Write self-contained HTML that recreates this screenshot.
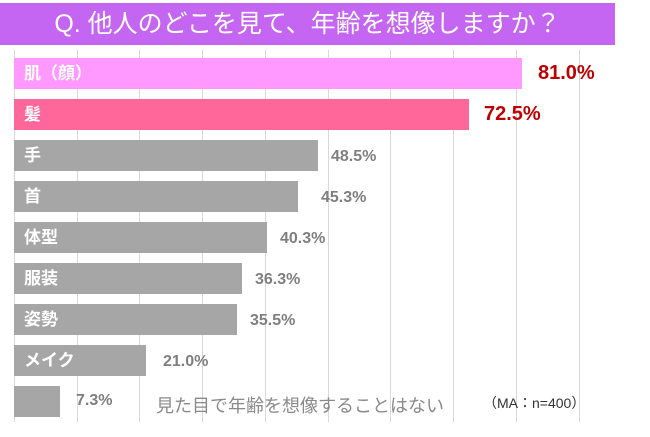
<!DOCTYPE html><html><head><meta charset="utf-8"><style>
body{margin:0;width:650px;height:437px;background:#fff;position:relative;overflow:hidden;font-family:"Liberation Sans","Noto Sans CJK JP",sans-serif}
.t{position:absolute;left:0;top:3px;width:615px;height:42px;background:#c466f2;color:#fff;font-size:25px;line-height:42px;text-align:center}
.g{position:absolute;top:50px;height:372px;width:1px;background:#d9d9d9}
.b{position:absolute;left:14px;height:31px;color:#fff;font-weight:bold;font-size:17px;line-height:31px;padding-left:10px;box-sizing:border-box;white-space:nowrap}
.v{position:absolute;font-weight:bold;font-size:16px;color:#7f7f7f;line-height:31px}
.r{color:#c00000;font-size:20px}
</style></head><body>
<div class="t">Q. 他人のどこを見て、年齢を想像しますか？</div>
<div class="g" style="left:14px"></div><div class="g" style="left:77px"></div><div class="g" style="left:139px"></div><div class="g" style="left:202px"></div><div class="g" style="left:265px"></div><div class="g" style="left:328px"></div><div class="g" style="left:390px"></div><div class="g" style="left:453px"></div><div class="g" style="left:516px"></div><div class="g" style="left:579px"></div>
<div class="b" style="top:58px;width:508px;background:#ff99ff">肌（顔）</div><div class="v r" style="top:58px;left:538px">81.0%</div>
<div class="b" style="top:99px;width:455px;background:#ff6699">髪</div><div class="v r" style="top:99px;left:484px">72.5%</div>
<div class="b" style="top:140px;width:304px;background:#a6a6a6">手</div><div class="v" style="top:141px;left:331px">48.5%</div>
<div class="b" style="top:181px;width:284px;background:#a6a6a6">首</div><div class="v" style="top:182px;left:321px">45.3%</div>
<div class="b" style="top:222px;width:253px;background:#a6a6a6">体型</div><div class="v" style="top:223px;left:280px">40.3%</div>
<div class="b" style="top:263px;width:228px;background:#a6a6a6">服装</div><div class="v" style="top:264px;left:255px">36.3%</div>
<div class="b" style="top:304px;width:223px;background:#a6a6a6">姿勢</div><div class="v" style="top:305px;left:250px">35.5%</div>
<div class="b" style="top:345px;width:132px;background:#a6a6a6">メイク</div><div class="v" style="top:346px;left:163px">21.0%</div>
<div class="b" style="top:386px;width:46px;background:#a6a6a6"></div><div class="v" style="top:385px;left:76px">7.3%</div>
<div style="position:absolute;left:156px;top:392px;font-size:18px;color:#8a8a8a;white-space:nowrap">見た目で年齢を想像することはない</div>
<div style="position:absolute;left:483px;top:393px;font-size:14px;color:#333;white-space:nowrap">（MA：n=400）</div>
</body></html>
